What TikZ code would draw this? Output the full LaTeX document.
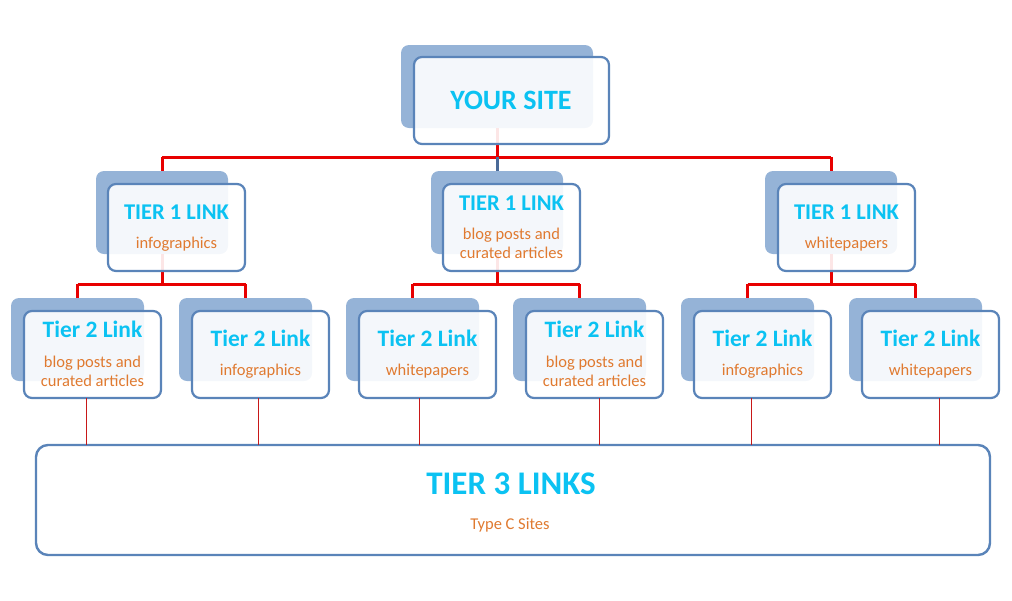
\documentclass[tikz,border=0pt]{standalone}
\usepackage{fontspec}
\setmainfont{Carlito}
\definecolor{shblue}{HTML}{95B3D7}
\definecolor{bdblue}{HTML}{5A84B9}
\definecolor{ttl}{HTML}{0BC2F2}
\definecolor{org}{HTML}{E07A30}
\definecolor{rd}{HTML}{E80000}
\definecolor{thrd}{HTML}{C81818}
\definecolor{cblue}{HTML}{4A6A98}
\tikzset{
  shbox/.style={rectangle, rounded corners=8pt, fill=shblue, draw=none, inner sep=0pt, outer sep=0pt},
  frbox/.style={rectangle, rounded corners=8pt, fill=white, fill opacity=0.9, text opacity=1, draw=bdblue, line width=2.2pt, inner sep=0pt, outer sep=0pt},
  t3box/.style={rectangle, rounded corners=12pt, fill=white, draw=bdblue, line width=2.4pt, inner sep=0pt, outer sep=0pt},
  bigtitle/.style={text=ttl, font=\bfseries\fontsize{28}{32}\selectfont, inner sep=0pt},
  title/.style={text=ttl, font=\bfseries\fontsize{22.5}{26}\selectfont, inner sep=0pt},
  title2/.style={text=ttl, font=\bfseries\fontsize{23.5}{27}\selectfont, inner sep=0pt},
  sub/.style={text=org, font=\fontsize{16.5}{18.5}\selectfont, align=center, inner sep=0pt},
  redline/.style={draw=rd, line width=3pt},
  thinred/.style={draw=thrd, line width=0.8pt},
  blueline/.style={draw=cblue, line width=3pt}
}
\begin{document}
\begin{tikzpicture}[x=1pt,y=-1pt]
\useasboundingbox (0,0) rectangle (1012,600);
% shadows
\node[shbox, minimum width=192pt, minimum height=83pt] (s0) at (497,86.5) {};
\node[shbox, minimum width=132pt, minimum height=83pt] (s11) at (162,212.5) {};
\node[shbox, minimum width=132pt, minimum height=83pt] (s12) at (497,212.5) {};
\node[shbox, minimum width=132pt, minimum height=83pt] (s13) at (831,212.5) {};
\node[shbox, minimum width=133pt, minimum height=83pt] (s21) at (77.5,339.5) {};
\node[shbox, minimum width=133pt, minimum height=83pt] (s22) at (245.5,339.5) {};
\node[shbox, minimum width=133pt, minimum height=83pt] (s23) at (412.5,339.5) {};
\node[shbox, minimum width=133pt, minimum height=83pt] (s24) at (579.5,339.5) {};
\node[shbox, minimum width=133pt, minimum height=83pt] (s25) at (747.5,339.5) {};
\node[shbox, minimum width=133pt, minimum height=83pt] (s26) at (915.5,339.5) {};
% bus coordinates
\coordinate (bus0) at (497,157);
\coordinate (bus1) at (0,284);
% connectors level 0 -> 1
\draw[redline] (s0.south) -- (s0.south |- bus0);
\draw[redline] (s11.north |- bus0) -- (s13.north |- bus0);
\draw[redline] (s11.north |- bus0) -- (s11.north);
\draw[redline] (s13.north |- bus0) -- (s13.north);
\draw[blueline] (s12.north |- bus0) -- (s12.north);
% connectors level 1 -> 2
\foreach \p/\a/\b in {s11/s21/s22, s12/s23/s24, s13/s25/s26}{
  \draw[redline] (\p.south) -- (\p.south |- bus1);
  \draw[redline] (\a.north |- bus1) -- (\b.north |- bus1);
  \draw[redline] (\a.north |- bus1) -- (\a.north);
  \draw[redline] (\b.north |- bus1) -- (\b.north);
}
% front boxes
\node[frbox, minimum width=195pt, minimum height=87pt] (f0) at (511.5,100.5) {};
\node[frbox, minimum width=137pt, minimum height=87pt] (f11) at (176.5,227.5) {};
\node[frbox, minimum width=137pt, minimum height=87pt] (f12) at (511.5,227.5) {};
\node[frbox, minimum width=137pt, minimum height=87pt] (f13) at (846.5,227.5) {};
\node[frbox, minimum width=137pt, minimum height=87pt] (f21) at (92.5,354.5) {};
\node[frbox, minimum width=137pt, minimum height=87pt] (f22) at (260.5,354.5) {};
\node[frbox, minimum width=137pt, minimum height=87pt] (f23) at (427.5,354.5) {};
\node[frbox, minimum width=137pt, minimum height=87pt] (f24) at (594.5,354.5) {};
\node[frbox, minimum width=137pt, minimum height=87pt] (f25) at (762.5,354.5) {};
\node[frbox, minimum width=137pt, minimum height=87pt] (f26) at (930.5,354.5) {};
\node[t3box, minimum width=954pt, minimum height=110pt] (t3) at (513,500) {};
% level 2 -> 3 connectors
\draw[thinred] ([xshift=-6.5pt]f21.south) -- ([xshift=-6.5pt]f21.south |- t3.north);
\draw[thinred] ([xshift=-2.5pt]f22.south) -- ([xshift=-2.5pt]f22.south |- t3.north);
\draw[thinred] ([xshift=-8.5pt]f23.south) -- ([xshift=-8.5pt]f23.south |- t3.north);
\draw[thinred] ([xshift=4.5pt]f24.south) -- ([xshift=4.5pt]f24.south |- t3.north);
\draw[thinred] ([xshift=-11.5pt]f25.south) -- ([xshift=-11.5pt]f25.south |- t3.north);
\draw[thinred] ([xshift=8.5pt]f26.south) -- ([xshift=8.5pt]f26.south |- t3.north);
% texts
\node[bigtitle] (l0) at (511,100) {YOUR SITE};
\node[title] (l11) at (176.5,212) {TIER 1 LINK};
\node[sub] (d11) at (176.5,244) {infographics};
\node[title] (l12) at (511.5,203) {TIER 1 LINK};
\node[sub] (d12) at (511.5,243.5) {blog posts and\\curated articles};
\node[title] (l13) at (846.5,212) {TIER 1 LINK};
\node[sub] (d13) at (846.5,244) {whitepapers};
\node[title2] (l21) at (92.5,329) {Tier 2 Link};
\node[sub] (d21) at (92.5,371.5) {blog posts and\\curated articles};
\node[title2] (l22) at (260.5,338) {Tier 2 Link};
\node[sub] (d22) at (260.5,371) {infographics};
\node[title2] (l23) at (427.5,338) {Tier 2 Link};
\node[sub] (d23) at (427.5,371) {whitepapers};
\node[title2] (l24) at (594.5,329) {Tier 2 Link};
\node[sub] (d24) at (594.5,371.5) {blog posts and\\curated articles};
\node[title2] (l25) at (762.5,338) {Tier 2 Link};
\node[sub] (d25) at (762.5,371) {infographics};
\node[title2] (l26) at (930.5,338) {Tier 2 Link};
\node[sub] (d26) at (930.5,371) {whitepapers};
\node[text=ttl, font=\bfseries\fontsize{33}{37}\selectfont, inner sep=0pt] (l3) at (511,484) {TIER 3 LINKS};
\node[sub] (d3) at (510,525) {Type C Sites};
\end{tikzpicture}
\end{document}
